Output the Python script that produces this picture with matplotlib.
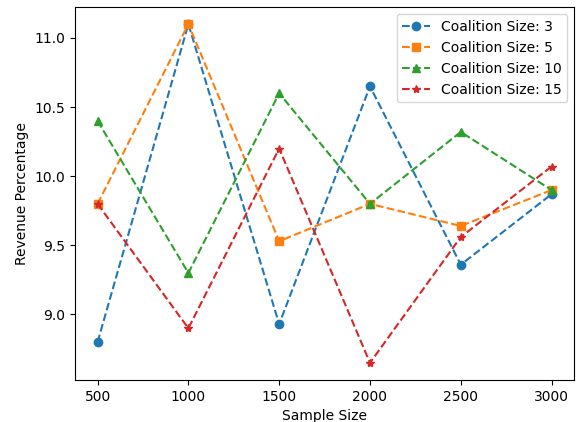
import matplotlib.pyplot as plt

sample_sizes = [500, 1000, 1500, 2000, 2500, 3000]

rev_3 = [8.80, 11.10, 8.93, 10.65, 9.36, 9.87]
rev_5 = [9.80, 11.10, 9.53, 9.80, 9.64, 9.90]
rev_10 = [10.40, 9.30, 10.60, 9.80, 10.32, 9.90]
rev_15 = [9.80, 8.90, 10.20, 8.65, 9.56, 10.07]

series = [(3, rev_3, 'o'), (5, rev_5, 's'), (10, rev_10, '^'), (15, rev_15, '*')]

fig, ax = plt.subplots(figsize=(5.76, 4.22), dpi=100)
fig.subplots_adjust(left=0.130, right=0.997, top=0.983, bottom=0.100)

for size, vals, mk in series:
    ax.plot(sample_sizes, vals, linestyle='--', marker=mk,
            label=f'Coalition Size: {size}')

ax.set_xlabel('Sample Size')
ax.set_ylabel('Revenue Percentage')
ax.set_xticks(sample_sizes)
ax.legend(loc='upper right')

plt.savefig('out.png')
